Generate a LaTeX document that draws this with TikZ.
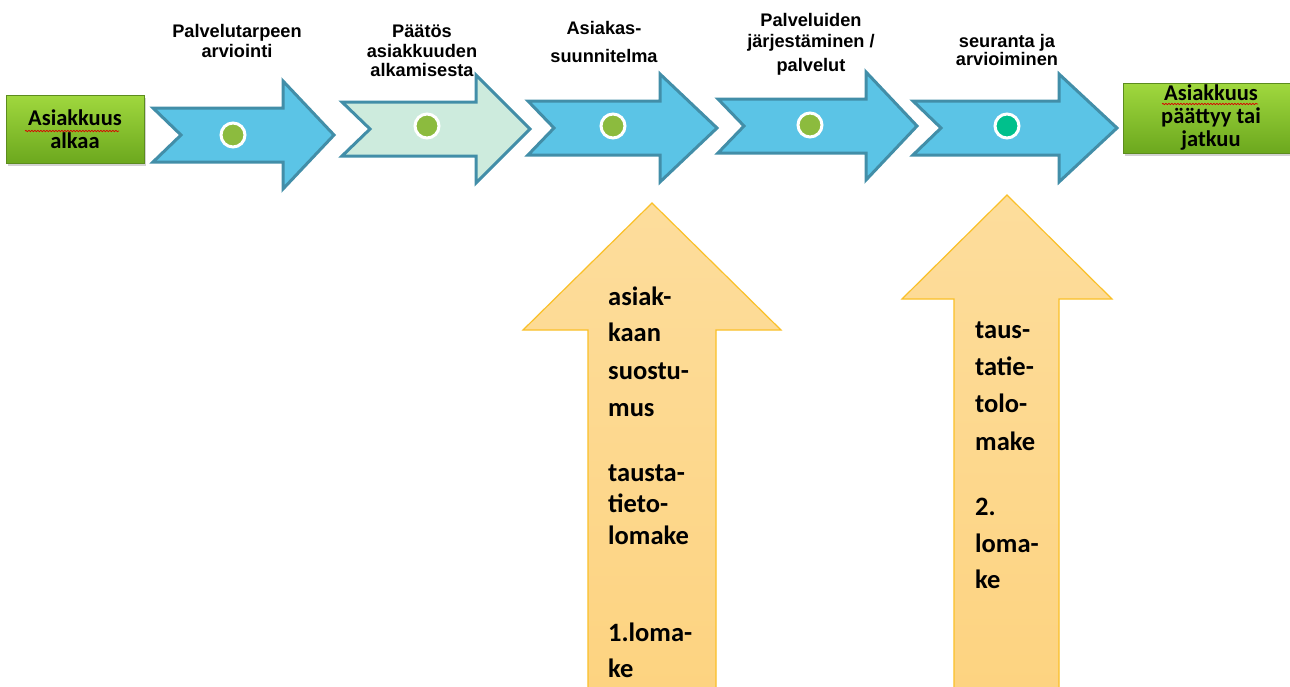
\documentclass[tikz,border=0pt]{standalone}
\usepackage{fontspec}
\setmainfont{Liberation Sans}
\newfontfamily\calib{Carlito}
\usetikzlibrary{shadows,decorations.pathmorphing}
\definecolor{arrowblue}{RGB}{91,196,230}
\definecolor{arrowedge}{RGB}{66,142,168}
\definecolor{mint}{RGB}{205,235,221}
\definecolor{dotgreen}{RGB}{140,187,62}
\definecolor{dotteal}{RGB}{0,192,140}
\definecolor{ytop}{RGB}{253,221,156}
\definecolor{ybot}{RGB}{253,211,128}
\definecolor{yedge}{RGB}{250,192,40}
\definecolor{gtop}{RGB}{160,216,62}
\definecolor{gbot}{RGB}{108,168,30}
\definecolor{gedge}{RGB}{92,140,30}
\newcommand\processarrow[6]{%
  \draw[flowarrow,#1] (#2,#6-27) -- (#4,#6-27) -- (#4,#6-54) -- (#5,#6)
    -- (#4,#6+54) -- (#4,#6+27) -- (#2,#6+27) -- (#3,#6) -- cycle;}
\tikzset{
  flowarrow/.style={draw=arrowedge, line width=3pt, line join=miter, fill=arrowblue},
  dot/.style={circle, draw=white, line width=3pt, fill=dotgreen, minimum size=24pt, inner sep=0pt},
  toplabel/.style={anchor=base, inner sep=0pt, font=\bfseries\fontsize{18.2}{20}\selectfont},
  greenbox/.style={draw=gedge, line width=0.8pt, top color=gtop, bottom color=gbot,
    align=center, inner sep=0pt, font=\calib\bfseries\fontsize{22.5}{23}\selectfont,
    drop shadow={opacity=0.35, shadow xshift=2pt, shadow yshift=-3pt}},
  uparrow/.style={draw=yedge, line width=1.2pt, top color=ytop, bottom color=ybot},
  ytext/.style={anchor=base west, inner sep=0pt, font=\calib\bfseries\fontsize{26.5}{30}\selectfont},
  squiggle/.style={draw=red!85!black, line width=0.7pt, decorate,
    decoration={snake, amplitude=0.7pt, segment length=3pt}}
}
\begin{document}
\begin{tikzpicture}[x=1pt,y=-1pt]
\useasboundingbox (0,0) rectangle (1290,686);
\fill[white] (0,0) rectangle (1290,686);

% start and end boxes
\node[greenbox, minimum width=138pt, minimum height=68pt] (start) at (75,129) {Asiakkuus\\alkaa};
\node[greenbox, minimum width=176pt, minimum height=70pt] (finish) at (1211,118) {Asiakkuus\\päättyy tai\\jatkuu};
\coordinate (sq1a) at (25,131);
\coordinate (sq1b) at (119,131);
\coordinate (sq2a) at (1162,104);
\coordinate (sq2b) at (1258,104);
\draw[squiggle] (sq1a) -- (sq1b);
\draw[squiggle] (sq2a) -- (sq2b);

% process arrows
\processarrow{}{153}{181}{283}{334}{135}
\processarrow{fill=mint}{342}{370}{476}{530}{129}
\processarrow{}{528}{554}{660}{717}{128}
\processarrow{}{718}{744}{866}{917}{126}
\processarrow{}{913}{941}{1059}{1117}{128}

% dots
\node[dot] (d1) at (233,135) {};
\node[dot] (d2) at (427,126) {};
\node[dot] (d3) at (613,126) {};
\node[dot] (d4) at (810,125) {};
\node[dot, fill=dotteal] (d5) at (1007,126) {};

% top labels
\node[toplabel] (l1a) at (237,37) {Palvelutarpeen};
\node[toplabel] (l1b) at (237,57) {arviointi};
\node[toplabel] (l2a) at (422,37) {Päätös};
\node[toplabel] (l2b) at (422,57) {asiakkuuden};
\node[toplabel] (l2c) at (422,76) {alkamisesta};
\node[toplabel] (l3a) at (604,34) {Asiakas-};
\node[toplabel] (l3b) at (604,62) {suunnitelma};
\node[toplabel] (l4a) at (811,26) {Palveluiden};
\node[toplabel] (l4b) at (811,47) {järjestäminen /};
\node[toplabel] (l4c) at (811,71) {palvelut};
\node[toplabel] (l5a) at (1007,47) {seuranta ja};
\node[toplabel] (l5b) at (1007,65) {arvioiminen};

% up arrows
\path[uparrow] (588,700) -- (588,330) -- (523,330) -- (652,203) -- (781,330) -- (716,330) -- (716,700) -- cycle;
\path[uparrow] (954,700) -- (954,299) -- (902,299) -- (1007,195) -- (1112,299) -- (1059,299) -- (1059,700) -- cycle;

\foreach \t/\y [count=\i] in {asiak-/305, kaan/341, suostu-/379, mus/416, tausta-/481, tieto-/512, lomake/544, 1.loma-/641, ke/677}
  \node[ytext] (ya\i) at (608,\y) {\t};
\foreach \t/\y [count=\i] in {taus-/338, tatie-/375, tolo-/412, make/450, 2./515, loma-/552, ke/588}
  \node[ytext] (yb\i) at (975,\y) {\t};
\end{tikzpicture}
\end{document}
